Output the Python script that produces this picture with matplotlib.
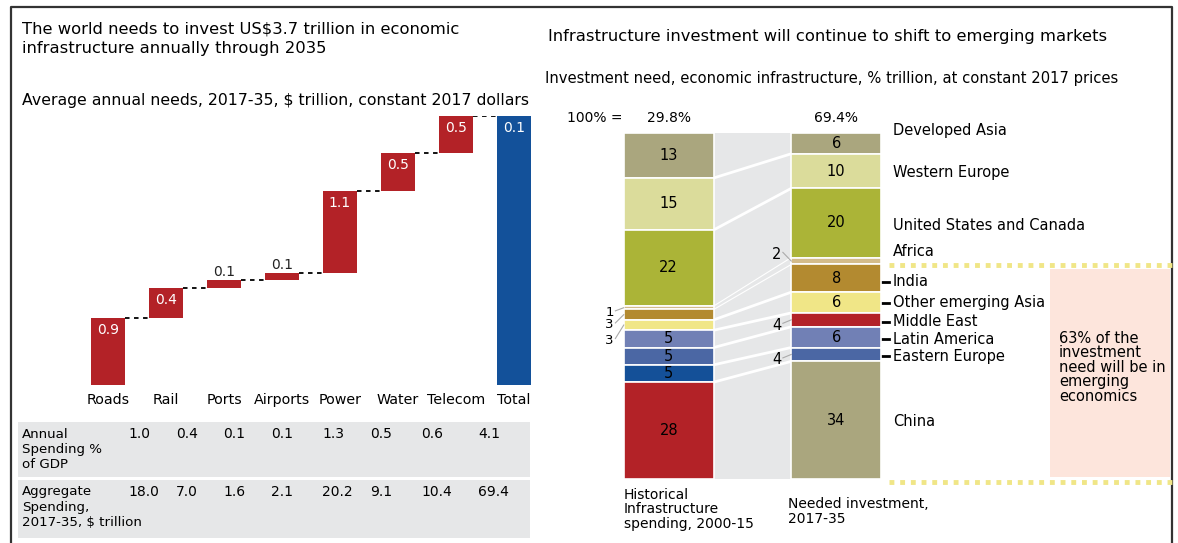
import numpy as np
import matplotlib
matplotlib.use("Agg")
import matplotlib.pyplot as plt
from matplotlib.patches import Rectangle

plt.rcParams['font.family'] = ['DejaVu Sans']

# ---- data: waterfall (left panel)
sectors = ['Roads', 'Rail', 'Ports', 'Airports', 'Power', 'Water', 'Telecom', 'Total']
needs = [0.9, 0.4, 0.1, 0.1, 1.1, 0.5, 0.5]
bar_labels = ['0.9', '0.4', '0.1', '0.1', '1.1', '0.5', '0.5', '0.1']

# ---- data: table under the waterfall
row_names = [['Annual', 'Spending %', 'of GDP'], ['Aggregate', 'Spending,', '2017-35, $ trillion']]
gdp_share = ['1.0', '0.4', '0.1', '0.1', '1.3', '0.5', '0.6', '4.1']
aggregate = ['18.0', '7.0', '1.6', '2.1', '20.2', '9.1', '10.4', '69.4']

# ---- data: stacked bars (right panel), top to bottom
regions = ['Developed Asia', 'Western Europe', 'United States and Canada', 'Africa', 'India',
           'Other emerging Asia', 'Middle East', 'Latin America', 'Eastern Europe', 'China']
historical = [13, 15, 22, 1, 3, 3, 5, 5, 5, 28]
needed = [6, 10, 20, 2, 8, 6, 4, 6, 4, 34]
totals = ['29.8%', '69.4%']
bar_names = ['Historical\nInfrastructure\nspending, 2000-15', 'Needed investment,\n2017-35']

RED = '#b32227'
BLUE = '#13519a'
khaki, pale, olive, tan, gold = '#aaa67e', '#dbdc9b', '#abb437', '#d3bb8a', '#b38a30'
yellow, peri, mblue, dblue = '#f0e687', '#7180b5', '#4b67a4', '#145098'
hist_colors = [khaki, pale, olive, tan, gold, yellow, peri, mblue, dblue, RED]
need_colors = [khaki, pale, olive, tan, gold, yellow, RED, peri, mblue, khaki]

W, H = 1178, 543
fig = plt.figure(figsize=(W / 100, H / 100), dpi=100)

# background axes in pixel coordinates (text, frame, table)
bg = fig.add_axes([0, 0, 1, 1])
bg.set_xlim(0, W)
bg.set_ylim(H, 0)
bg.axis('off')

bg.plot([11, 11, 1172, 1172], [H, 7, 7, H], color='#333333', lw=1.6)

bg.text(22, 22, 'The world needs to invest US$3.7 trillion in economic\ninfrastructure annually through 2035',
        fontsize=11.8, va='top', linespacing=1.3)
bg.text(22, 100, 'Average annual needs, 2017-35, $ trillion, constant 2017 dollars',
        fontsize=11.3, va='center')
bg.text(548, 37, 'Infrastructure investment will continue to shift to emerging markets',
        fontsize=11.8, va='center')
bg.text(545, 78, 'Investment need, economic infrastructure, % trillion, at constant 2017 prices',
        fontsize=10.6, va='center')

# table
col_x = [128, 176, 223, 271, 322, 370, 421, 478]
rows_y = [(422, 477), (480, 538)]
for (y0, y1), name, vals in zip(rows_y, row_names, [gdp_share, aggregate]):
    bg.add_patch(Rectangle((18, y0), 512, y1 - y0, color='#e6e7e8', lw=0))
    for k, line in enumerate(name):
        bg.text(22, y0 + 12 + 15 * k, line, fontsize=9.6, va='center')
    for x, v in zip(col_x, vals):
        bg.text(x, y0 + 12, v, fontsize=10, va='center')

# ---- waterfall
ax = fig.add_axes([79 / W, 1 - 385 / H, 464 / W, 269 / H])
ax.set_facecolor('none')
cum = np.concatenate([[0], np.cumsum(needs)])
x = np.arange(len(sectors))
bw = 34 / 58
bottoms = list(cum[:-1]) + [0]
heights = needs + [cum[-1]]
colors = [RED] * len(needs) + [BLUE]
ax.bar(x, heights, bottom=bottoms, width=bw, color=colors)
for i in range(len(sectors) - 1):
    ax.plot([x[i] + bw / 2, x[i + 1] - bw / 2], [cum[i + 1], cum[i + 1]],
            color='black', ls=(0, (2.5, 2.5)), lw=1.3)
for i, lab in enumerate(bar_labels):
    top = bottoms[i] + heights[i]
    if heights[i] < 0.2:
        ax.annotate(lab, (x[i], top), xytext=(0, 1), textcoords='offset pixels',
                    ha='center', va='bottom', fontsize=10, color='#222222')
    else:
        ax.annotate(lab, (x[i], top), xytext=(0, -12), textcoords='offset pixels',
                    ha='center', va='center', fontsize=10, color='white')
ax.set_xlim(-0.5, len(sectors) - 0.5)
ax.set_ylim(0, cum[-1])
ax.set_xticks(x)
ax.set_xticklabels(sectors, fontsize=10.3)
ax.tick_params(axis='x', length=0, pad=6)
ax.set_yticks([])
for s in ax.spines.values():
    s.set_visible(False)

# ---- stacked bars
sx = fig.add_axes([585 / W, 1 - 479 / H, 335 / W, 346 / H])
sx.set_facecolor('none')
sx.set_xlim(-0.5, 1.5)
sx.set_ylim(100, 0)
sx.axis('off')
sw = 90 / 167.5
sx.axvspan(sw / 2, 1 - sw / 2, color='#e6e7e8', lw=0, zorder=0)

for pos, vals, cols in [(0, historical, hist_colors), (1, needed, need_colors)]:
    tops = np.concatenate([[0], np.cumsum(vals)[:-1]])
    sx.bar([pos] * len(vals), vals, bottom=tops, width=sw, color=cols,
           edgecolor='white', lw=1.2, zorder=2)

hb = np.cumsum(historical)[:-1]
nb = np.cumsum(needed)[:-1]
for k, (a, b) in enumerate(zip(hb, nb)):
    thin = k in (2, 3)
    sx.plot([sw / 2, 1 - sw / 2], [a, b], color='white', lw=0.8 if thin else 2, zorder=1)


def seg_mid(vals, i):
    return sum(vals[:i]) + vals[i] / 2


for i, v in enumerate(historical):
    ym = seg_mid(historical, i)
    if v >= 5:
        sx.text(0, ym, str(v), ha='center', va='center', fontsize=10.5, zorder=3)
    else:
        ty = ym + 0.9 + (i - 3) * 1.5
        sx.plot([-sw / 2 - 0.05, -sw / 2], [ty, ym], color='#aaaaaa', lw=0.8, clip_on=False)
        sx.text(-sw / 2 - 0.06, ty + 0.5, str(v), ha='right', va='center', fontsize=9.5)
for i, v in enumerate(needed):
    ym = seg_mid(needed, i)
    if v >= 6:
        sx.text(1, ym, str(v), ha='center', va='center', fontsize=10.5, zorder=3)
    else:
        ty = ym - 2.5 if v == 2 else ym + 1.0
        sx.plot([1 - sw / 2 - 0.05, 1 - sw / 2], [ty, ym], color='#aaaaaa', lw=0.8, clip_on=False)
        sx.text(1 - sw / 2 - 0.06, ty + 0.6, str(v), ha='right', va='center', fontsize=10.5)

for pos, t in enumerate(totals):
    sx.text(pos, -4.2, t, ha='center', va='center', fontsize=10)
sx.text(-0.44, -4.2, '100% =', ha='center', va='center', fontsize=10)
sx.text(-sw / 2, 102.5, bar_names[0], ha='left', va='top', fontsize=10, linespacing=1.05)
sx.text(1 - sw / 2 - 0.02, 105.3, bar_names[1], ha='left', va='top', fontsize=10, linespacing=1.05)

# region labels at right of the needed bar
label_y = [130, 172, 225, 252, 282, 303, 322, 339, 356, 422]
ticked = {'India', 'Other emerging Asia', 'Middle East', 'Latin America', 'Eastern Europe'}
for name, y in zip(regions, label_y):
    bg.text(893, y, name, fontsize=10.5, va='center')
    if name in ticked:
        bg.plot([882, 889], [y, y], color='black', lw=2)

# emerging markets bracket
for y in (265, 482):
    bg.plot([889, 1172], [y, y], color='#f0e687', lw=3.5, ls=(0, (1, 1.2)))
bg.add_patch(Rectangle((1050, 269), 120, 208, color='#fde5dc', lw=0))
bg.text(1059, 331, '63% of the\ninvestment\nneed will be in\nemerging\neconomics',
        fontsize=10.5, va='top', linespacing=0.95)

fig.savefig('out.png', dpi=100)
